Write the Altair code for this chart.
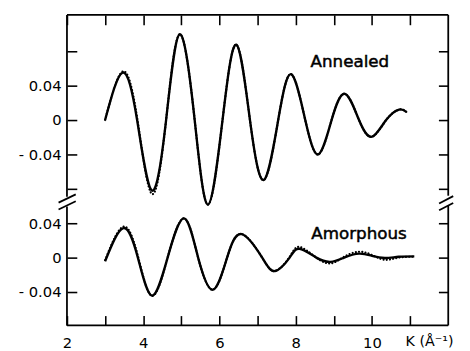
import altair as alt
import pandas as pd

# ---------------- data ----------------
k_annealed = [3.0, 3.46, 3.84, 4.23, 4.60, 4.96, 5.35, 5.70, 6.08, 6.44, 6.80, 7.16,
              7.54, 7.88, 8.25, 8.59, 8.94, 9.29, 9.66, 10.0, 10.37, 10.71, 10.90]
chi_annealed_solid = [0.0, 0.0552, 0.0, -0.082, 0.0, 0.0998, 0.0, -0.0983, 0.0, 0.0877, 0.0, -0.0697,
                      0.0, 0.0533, 0.0, -0.040, 0.0, 0.0305, 0.0, -0.0194, 0.0, 0.0122, 0.0095]
chi_annealed_dotted = [0.0, 0.0565, 0.003, -0.086, 0.0, 0.0998, 0.0, -0.0983, 0.0, 0.0877, 0.0, -0.0697,
                       0.0, 0.0533, 0.0, -0.040, 0.0, 0.0305, 0.0, -0.0194, 0.0, 0.0122, 0.0095]

k_amorphous = [3.0, 3.48, 3.86, 4.23, 4.64, 5.07, 5.44, 5.83, 6.20, 6.58, 7.12, 7.46,
               7.84, 8.10, 8.54, 8.92, 9.27, 9.66, 10.0, 10.34, 10.70, 11.11]
chi_amorphous_solid = [-0.0042, 0.0343, 0.0, -0.0442, 0.0, 0.0457, 0.0, -0.0373, 0.0, 0.0274, 0.0, -0.0156,
                       0.0, 0.0103, 0.0, -0.0049, 0.0, 0.0046, 0.002, -0.0005, 0.001, 0.0015]
chi_amorphous_dotted = [-0.003, 0.036, 0.002, -0.0445, 0.0, 0.0457, 0.0, -0.0373, 0.0, 0.0274, 0.0, -0.0156,
                        0.001, 0.0125, 0.0, -0.0068, 0.001, 0.0068, 0.003, -0.0025, 0.0, 0.001]

panel_names = ["Annealed", "Amorphous"]
panel_label_k = [9.42, 9.66]
panel_label_chi = [0.0674, 0.0274]          # in each panel's own units
panel_offset = [0.16, 0.0]                  # vertical shift of each panel (broken axis)

x_ticks = [2, 3, 4, 5, 6, 7, 8, 9, 10, 11]
x_tick_labels = {2: "2", 4: "4", 6: "6", 8: "8", 10: "10"}
y_ticks = [-0.04, 0.0, 0.04, 0.08, 0.12, 0.16, 0.20, 0.24]
y_tick_labels = {0.20: "0.04", 0.16: "0", 0.12: "- 0.04", 0.04: "0.04", 0.0: "0", -0.04: "- 0.04"}
x_title = "K (Å⁻¹)"
x_title_k = 10.88

X_DOM = [2, 12]
Y_DOM = [-0.0789, 0.2823]

# ---------------- tables ----------------
rows = []
for k, s, d in zip(k_annealed, chi_annealed_solid, chi_annealed_dotted):
    rows.append({"panel": "Annealed", "style": "solid", "K": k, "chi": s})
    rows.append({"panel": "Annealed", "style": "dotted", "K": k, "chi": d})
for k, s, d in zip(k_amorphous, chi_amorphous_solid, chi_amorphous_dotted):
    rows.append({"panel": "Amorphous", "style": "solid", "K": k, "chi": s})
    rows.append({"panel": "Amorphous", "style": "dotted", "K": k, "chi": d})
df = pd.DataFrame(rows)
df["series"] = df["panel"] + "-" + df["style"]

labels_df = pd.DataFrame({"text": panel_names, "K": panel_label_k,
                          "chi": panel_label_chi, "off": panel_offset})

# frame (with gaps for the axis breaks) and break slashes, in data units
frame_df = pd.DataFrame([
    {"x": 2, "x2": 12, "y": Y_DOM[1], "y2": Y_DOM[1]},
    {"x": 2, "x2": 12, "y": Y_DOM[0], "y2": Y_DOM[0]},
    {"x": 2, "x2": 2, "y": Y_DOM[1], "y2": 0.0709},
    {"x": 2, "x2": 2, "y": 0.0594, "y2": Y_DOM[0]},
    {"x": 12, "x2": 12, "y": Y_DOM[1], "y2": 0.0720},
    {"x": 12, "x2": 12, "y": 0.0606, "y2": Y_DOM[0]},
    {"x": 1.78, "x2": 2.23, "y": 0.0640, "y2": 0.0735},
    {"x": 1.78, "x2": 2.23, "y": 0.0560, "y2": 0.0655},
    {"x": 11.76, "x2": 12.13, "y": 0.0630, "y2": 0.0715},
    {"x": 11.76, "x2": 12.13, "y": 0.0550, "y2": 0.0635},
])


def map_expr(mapping):
    parts = [f"abs(datum.value - ({v})) < 0.001 ? '{t}'" for v, t in mapping.items()]
    return " : ".join(parts) + " : ''"


FONT = "DejaVu Sans"
xs = alt.Scale(domain=X_DOM, nice=False, zero=False)
ys = alt.Scale(domain=Y_DOM, nice=False, zero=False)

common_axis = dict(offset=-10, tickSize=10, domain=False, grid=False, title=None,
                   tickColor="black", tickWidth=1.6, labelFont=FONT, labelFontSize=15,
                   labelColor="black", labelOverlap=False, labelFlush=False)

x_bottom = alt.Axis(orient="bottom", values=x_ticks, labelExpr=map_expr(x_tick_labels),
                    labelPadding=10, **common_axis)
x_top = alt.Axis(orient="top", values=x_ticks, labels=False, **common_axis)
y_left = alt.Axis(orient="left", values=y_ticks, labelExpr=map_expr(y_tick_labels),
                  labelPadding=6, **common_axis)
y_right = alt.Axis(orient="right", values=y_ticks, labels=False, **common_axis)

frame = alt.Chart(frame_df).mark_rule(color="black", strokeWidth=1.8).encode(
    x=alt.X("x:Q", scale=xs, axis=x_top),
    x2="x2:Q",
    y=alt.Y("y:Q", scale=ys, axis=y_right),
    y2="y2:Q",
)

base = alt.Chart(df).transform_calculate(
    yy="datum.panel == 'Annealed' ? datum.chi + 0.16 : datum.chi"
)

dotted = base.transform_filter(alt.datum.style == "dotted").mark_line(
    interpolate="natural", color="black", strokeWidth=2.2, strokeDash=[0.1, 3.2], strokeCap="round"
).encode(
    x=alt.X("K:Q", scale=xs, axis=None),
    y=alt.Y("yy:Q", scale=ys, axis=None),
    detail="series:N",
)

solid = base.transform_filter(alt.datum.style == "solid").mark_line(
    interpolate="natural", color="black", strokeWidth=2.4
).encode(
    x=alt.X("K:Q", scale=xs, axis=x_bottom),
    y=alt.Y("yy:Q", scale=ys, axis=y_left),
    detail="series:N",
)

texts = alt.Chart(labels_df).transform_calculate(
    yy="datum.chi + datum.off"
).mark_text(font=FONT, fontSize=17, color="black", stroke="black", strokeWidth=0.5,
            align="center", baseline="middle").encode(
    x=alt.X("K:Q", scale=xs, axis=None),
    y=alt.Y("yy:Q", scale=ys, axis=None),
    text="text:N",
)

ktitle = alt.Chart(pd.DataFrame({"K": [x_title_k], "t": [x_title]})).mark_text(
    font=FONT, fontSize=14.5, color="black", align="left", baseline="middle"
).encode(
    x=alt.X("K:Q", scale=xs, axis=None),
    y=alt.value(333),
    text="t:N",
)

chart = alt.layer(frame, dotted, solid, texts, ktitle).resolve_axis(
    x="independent", y="independent"
).properties(
    width=388, height=316,
    autosize=alt.AutoSizeParams(type="none"),
    padding={"left": 60, "top": 4, "right": 14, "bottom": 24},
    background="white",
).configure_view(stroke=None)

chart.save("out.html", embed_options={"renderer": "svg", "actions": False})
